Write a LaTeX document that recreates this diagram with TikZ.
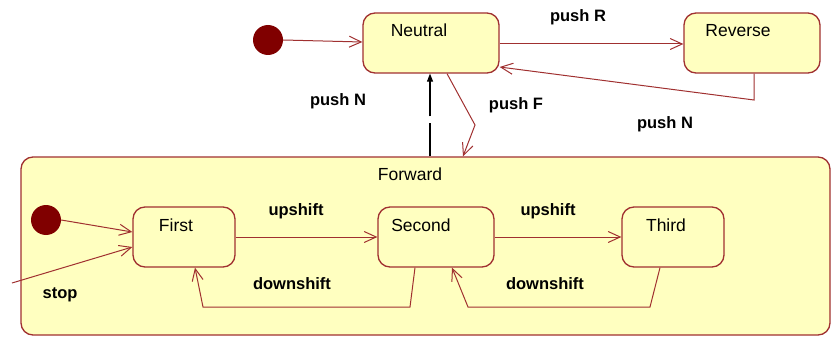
\documentclass[tikz,border=0pt]{standalone}
\usepackage{fontspec}
\setmainfont{Liberation Sans}
\usetikzlibrary{arrows.meta}
\definecolor{stateline}{RGB}{160,48,48}
\definecolor{statefill}{RGB}{255,255,192}
\definecolor{dotred}{RGB}{128,0,0}
\begin{document}
\begin{tikzpicture}[x=1pt,y=-1pt,
  statebox/.style={draw=stateline, fill=statefill, line width=1.3pt, rounded corners=12pt,
    minimum width=#1, minimum height=60pt, inner sep=0pt},
  statebox/.default=102pt,
  statename/.style={font=\fontsize{17.5}{17.5}\selectfont, inner sep=0pt},
  trlabel/.style={font=\fontsize{16.5}{16.5}\selectfont\bfseries, inner sep=0pt},
  initdot/.style={circle, fill=dotred, minimum size=30pt, inner sep=0pt},
  trans/.style={draw=stateline, line width=1pt, -{Straight Barb[length=12pt,width=11pt,line width=1pt]}},
]
\useasboundingbox (0,0) rectangle (831,337);

% composite state
\node[draw=stateline, fill=statefill, line width=1.3pt, rounded corners=12pt,
  minimum width=809pt, minimum height=178pt, inner sep=0pt] (forward) at (425.5,246) {};
\node[statename] at (410,174) {Forward};

% top level states
\node[initdot] (init) at (268,40) {};
\node[statebox=136pt] (neutral) at (431,43) {};
\node[statename] at (419,30) {Neutral};
\node[statebox=136pt] (reverse) at (752,43) {};
\node[statename] at (738,31) {Reverse};

% sub states of Forward
\node[initdot] (finit) at (46,220) {};
\node[statebox] (first) at (184,237) {};
\node[statename] at (176,225) {First};
\node[statebox=116pt] (second) at (436,237) {};
\node[statename] at (421,225) {Second};
\node[statebox] (third) at (673,237) {};
\node[statename] at (666,225) {Third};

\coordinate (stopsrc) at (12,283);
\coordinate (rbend) at (754,100);
\coordinate (fbend) at (475,125);

% transitions
\draw[trans] (init.east) -- (neutral.west |- 0,42);
\draw[trans] (neutral.east |- 0,44) -- (reverse.west |- 0,44);
\node[trlabel] at (578,17) {push R};
\draw[trans] (reverse.south -| rbend) -- (rbend) -- (neutral.east |- 0,67);
\node[trlabel] at (665,124) {push N};
\draw[black, line width=1.1pt, dash pattern=on 33pt off 7pt on 60pt,
  -{Triangle[length=8pt,width=6pt]}] (forward.north -| 430,0) -- (neutral.south -| 430,0);
\node[trlabel] at (338,101) {push N};
\draw[trans] (neutral.south -| 447,0) -- (fbend) -- (forward.north -| 463,0);
\node[trlabel] at (516,105) {push F};

\draw[trans] (finit.east) -- (first.west |- 0,232);
\draw[trans] (stopsrc) -- (first.west |- 0,247);
\node[trlabel] at (60,295) {stop};
\draw[trans] (first.east |- 0,237) -- (second.west |- 0,237);
\node[trlabel] at (296,211) {upshift};
\draw[trans] (second.east |- 0,237) -- (third.west |- 0,237);
\node[trlabel] at (548,211) {upshift};
\draw[trans] (second.south -| 415,0) -- (410,307) -- (203,307) -- (first.south -| 195,0);
\node[trlabel] at (292,284) {downshift};
\draw[trans] (third.south -| 660,0) -- (650,307) -- (468,307) -- (second.south -| 452,0);
\node[trlabel] at (545,284) {downshift};
\end{tikzpicture}
\end{document}
